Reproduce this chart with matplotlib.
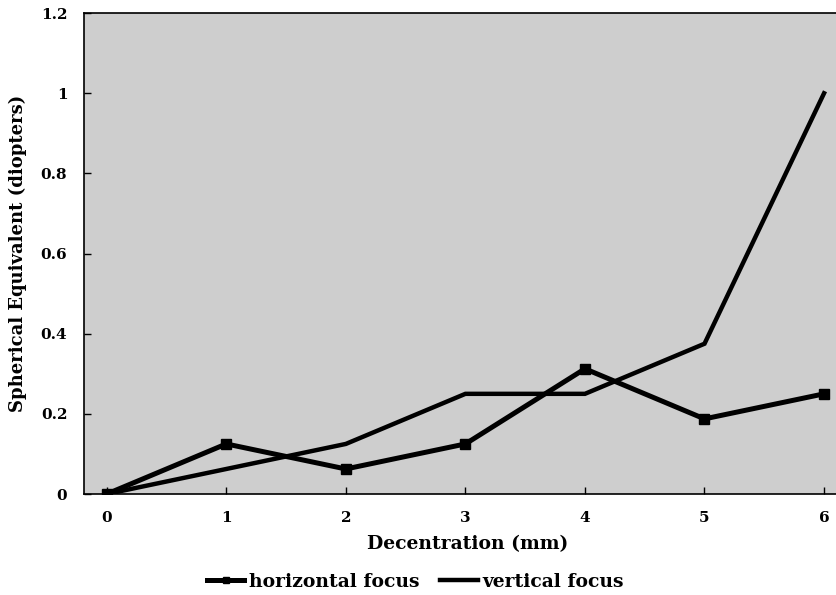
import matplotlib
matplotlib.use("Agg")
import matplotlib.pyplot as plt
from matplotlib.lines import Line2D

decentration = [0, 1, 2, 3, 4, 5, 6]
horizontal_focus = [0, 0.125, 0.0625, 0.125, 0.3125, 0.1875, 0.25]
vertical_focus = [0, 0.0625, 0.125, 0.25, 0.25, 0.375, 1.0]
y_ticks = [0, 0.2, 0.4, 0.6, 0.8, 1.0, 1.2]
y_tick_labels = ["0", "0.2", "0.4", "0.6", "0.8", "1", "1.2"]

plt.rcParams['font.family'] = ['DejaVu Serif']
plt.rcParams['font.weight'] = 'bold'

fig = plt.figure(figsize=(8.36, 5.95), dpi=100)
ax = fig.add_axes([0.1005, 0.1697, 0.8995, 0.8083])
ax.set_facecolor('#cecece')

ax.plot(decentration, horizontal_focus, color='black', lw=3.6, marker='s', ms=7,
        solid_joinstyle='miter')
ax.plot(decentration, vertical_focus, color='black', lw=3.2, solid_joinstyle='miter')

ax.set_xlim(-0.19, 6.1)
ax.set_ylim(0, 1.2)
ax.set_xticks(decentration)
ax.set_xticklabels([str(d) for d in decentration], fontsize=11, fontweight='bold')
ax.set_yticks(y_ticks)
ax.set_yticklabels(y_tick_labels, fontsize=11, fontweight='bold')
ax.tick_params(axis='both', direction='in', length=5, width=1, pad=12)

for s in ax.spines.values():
    s.set_linewidth(1.2)
ax.spines['right'].set_visible(False)

ax.set_xlabel("Decentration (mm)", fontsize=13.5, fontweight='bold', labelpad=3)
ax.xaxis.set_label_coords(0.51, -0.085)
ax.set_ylabel("Spherical Equivalent (diopters)", fontsize=13, fontweight='bold', labelpad=10)

handles = [Line2D([0], [0], color='black', lw=3.6, marker='s', ms=5),
           Line2D([0], [0], color='black', lw=3.2)]
fig.legend(handles, ["horizontal focus", "vertical focus"], loc='center',
           bbox_to_anchor=(0.497, 0.022), ncol=2, frameon=False,
           prop={'family': 'DejaVu Serif', 'weight': 'bold', 'size': 13.5},
           handlelength=2.0, handletextpad=0.25, columnspacing=1.1)

fig.savefig("out.png", dpi=100)
